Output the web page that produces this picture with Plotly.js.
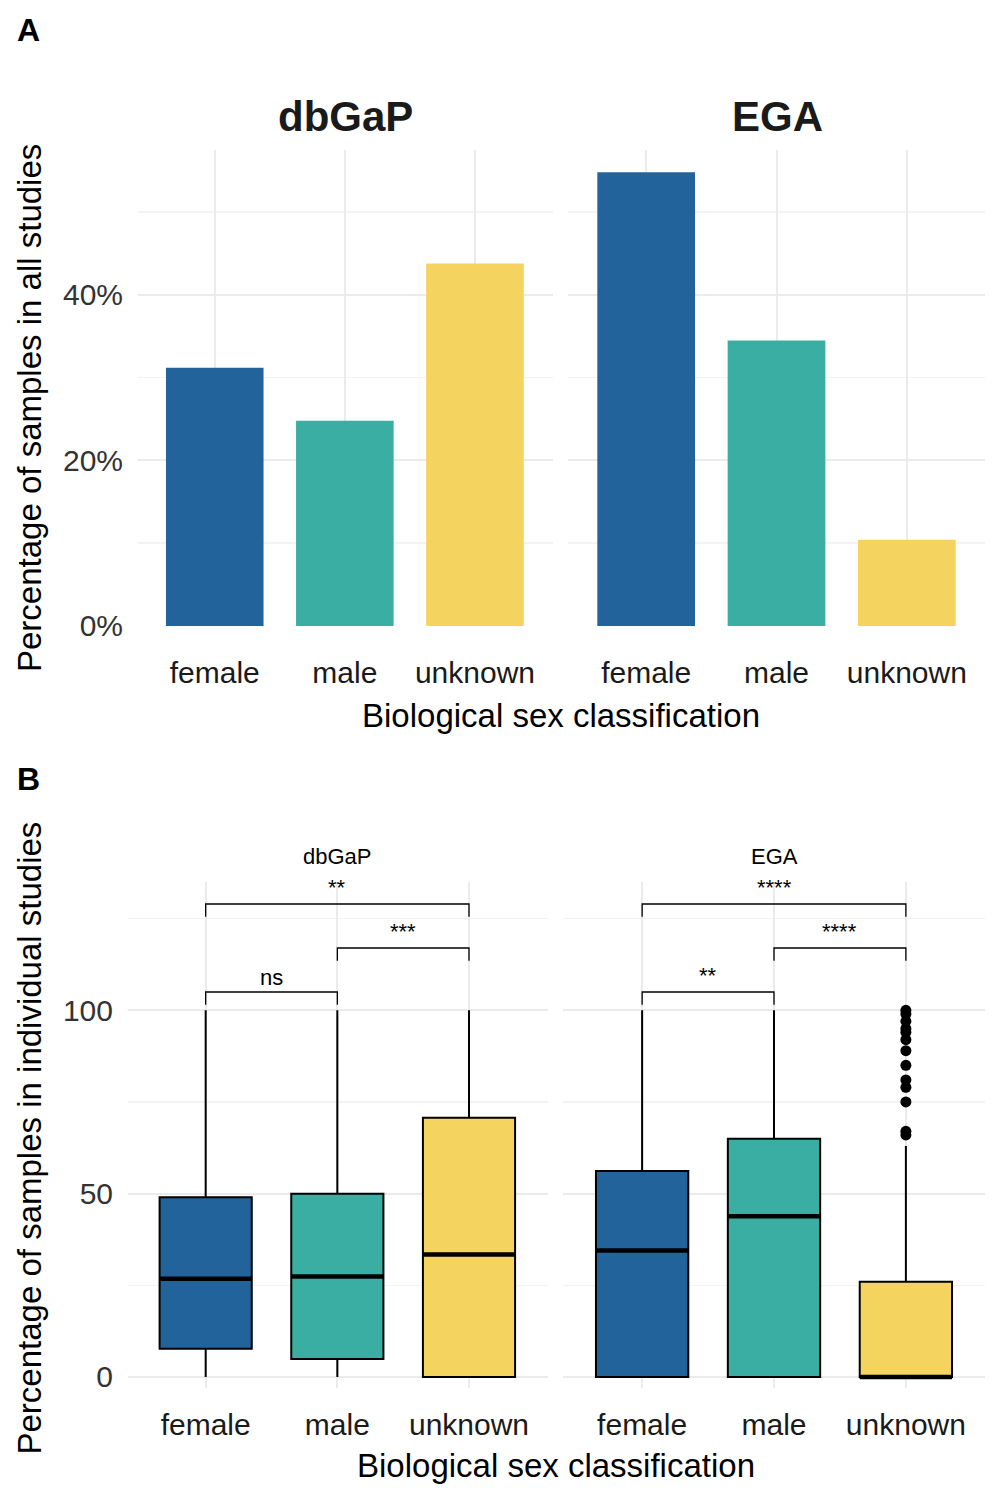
<!DOCTYPE html>
<html>
<head>
<script src="https://cdn.plot.ly/plotly-3.0.1.min.js"></script>
<style>body{margin:0}#chart{width:1000px;height:1500px}</style>
</head>
<body>
<div id="chart"></div>
<script>
// Panel A: percentage of samples in all studies
const categories = ['female', 'male', 'unknown'];
const sources = ['dbGaP', 'EGA'];
const colors = ['#22639b', '#3aaea3', '#f4d45e'];
const pctDbgap = [31.2, 24.8, 43.8];
const pctEga = [54.8, 34.5, 10.4];

// Panel B: per-study box statistics (min, q1, median, q3, max)
const boxDbgap = [
    [0, 7.7, 26.8, 49, 100],
    [0, 4.9, 27.4, 50, 100],
    [0, 0, 33.4, 70.7, 100]
];
const boxEga = [
    [0, 0, 34.5, 56.2, 100],
    [0, 0, 43.8, 65, 100],
    [0, 0, 0, 26, 63]
];
const egaUnknownOutliers = [66, 67, 75, 79, 81, 85, 89, 92, 94, 95, 97, 99, 100];

// significance comparisons: [from, to, bracket y, label]
const sigDbgap = [['female', 'male', 105, 'ns'], ['male', 'unknown', 117, '***'], ['female', 'unknown', 129, '**']];
const sigEga = [['female', 'male', 105, '**'], ['male', 'unknown', 117, '****'], ['female', 'unknown', 129, '****']];

const font = 'Liberation Sans, Arial, sans-serif';
const traces = [];
const shapes = [];
const annotations = [];

[pctDbgap, pctEga].forEach((vals, i) => {
    traces.push({
        type: 'bar', x: categories, y: vals, width: 0.75,
        marker: {color: colors},
        xaxis: i === 0 ? 'x' : 'x2', yaxis: 'y',
        showlegend: false, hoverinfo: 'skip'
    });
});

[boxDbgap, boxEga].forEach((stats, i) => {
    const xa = i === 0 ? 'x3' : 'x4';
    stats.forEach((s, j) => {
        traces.push({
            type: 'box', x: [categories[j]],
            lowerfence: [s[0]], q1: [s[1]], median: [s[2]], q3: [s[3]], upperfence: [s[4]],
            fillcolor: colors[j], line: {color: '#000', width: 2}, whiskerwidth: 0, width: 0.7,
            xaxis: xa, yaxis: 'y2', showlegend: false, hoverinfo: 'skip'
        });
        // thicker median bar, as in ggplot
        shapes.push({type: 'line', xref: xa, yref: 'y2', x0: j - 0.35, x1: j + 0.35,
            y0: s[2], y1: s[2], line: {color: '#000', width: 4.5}});
    });
});
traces.push({
    type: 'scatter', mode: 'markers',
    x: egaUnknownOutliers.map(() => 'unknown'), y: egaUnknownOutliers,
    marker: {color: '#000', size: 11}, xaxis: 'x4', yaxis: 'y2', showlegend: false, hoverinfo: 'skip'
});

[sigDbgap, sigEga].forEach((sig, i) => {
    const xr = i === 0 ? 'x3' : 'x4';
    sig.forEach(([a, b, y, lab]) => {
        const ia = categories.indexOf(a), ib = categories.indexOf(b);
        shapes.push({type: 'path', xref: xr, yref: 'y2',
            path: `M ${ia} ${y - 3.5} L ${ia} ${y} L ${ib} ${y} L ${ib} ${y - 3.5}`,
            line: {color: '#000', width: 1.3}});
        annotations.push({xref: xr, yref: 'y2', x: (ia + ib) / 2, y: y, text: lab,
            showarrow: false, yanchor: 'bottom', yshift: lab === 'ns' ? 0 : 2,
            font: {size: 22, color: '#000', family: font}});
    });
});

function label(text, x, y, size, extra) {
    return Object.assign({text: text, x: x, y: y, xref: 'paper', yref: 'paper', showarrow: false,
        xanchor: 'center', yanchor: 'middle', font: {size: size, color: '#000', family: font}}, extra || {});
}

const xBase = {
    type: 'category', showgrid: true, gridcolor: '#ebebeb', gridwidth: 2,
    zeroline: false, ticks: '', showline: false,
    tickfont: {size: 30, color: '#1a1a1a', family: font}, anchor: 'free'
};
const yBase = {
    gridcolor: '#ebebeb', gridwidth: 2, zeroline: false, ticklabelstandoff: 14,
    tickfont: {size: 30, color: '#333', family: font}
};
const layout = {
    width: 1000, height: 1500,
    margin: {l: 0, r: 0, t: 0, b: 0},
    paper_bgcolor: '#fff', plot_bgcolor: 'rgba(0,0,0,0)',
    font: {family: font, color: '#1a1a1a'},
    xaxis: Object.assign({}, xBase, {domain: [0.138, 0.553], range: [-0.59, 2.6], position: 0.5827, ticklabelstandoff: 26}),
    xaxis2: Object.assign({}, xBase, {domain: [0.568, 0.985], range: [-0.6, 2.6], position: 0.5827, ticklabelstandoff: 26}),
    xaxis3: Object.assign({}, xBase, {domain: [0.128, 0.548], range: [-0.59, 2.6], position: 0.0747, ticklabelstandoff: 16}),
    xaxis4: Object.assign({}, xBase, {domain: [0.563, 0.985], range: [-0.6, 2.6], position: 0.0747, ticklabelstandoff: 16}),
    yaxis: Object.assign({}, yBase, {
        domain: [0.5827, 0.9], range: [0, 57.5], anchor: 'x',
        tickvals: [0, 20, 40], ticktext: ['0%', '20%', '40%'],
        minor: {tickvals: [10, 30, 50], showgrid: true, gridcolor: '#f3f3f3', gridwidth: 1.5}
    }),
    yaxis2: Object.assign({}, yBase, {
        domain: [0.0747, 0.412], range: [-3, 135], anchor: 'x3',
        tickvals: [0, 50, 100],
        minor: {tickvals: [25, 75, 125], showgrid: true, gridcolor: '#f3f3f3', gridwidth: 1.5}
    }),
    shapes: shapes,
    annotations: annotations.concat([
        label('<b>A</b>', 0.028, 0.98, 32),
        label('<b>B</b>', 0.028, 0.481, 32),
        label('<b>dbGaP</b>', 0.345, 0.922, 42, {font: {size: 42, color: '#1a1a1a', family: font}}),
        label('<b>EGA</b>', 0.777, 0.922, 42, {font: {size: 42, color: '#1a1a1a', family: font}}),
        label('dbGaP', 0.337, 0.4287, 22),
        label('EGA', 0.774, 0.4287, 22),
        label('Biological sex classification', 0.561, 0.523, 33),
        label('Biological sex classification', 0.556, 0.0233, 33),
        label('Percentage of samples in all studies', 0.029, 0.728, 33, {textangle: -90}),
        label('Percentage of samples in individual studies', 0.029, 0.241, 33, {textangle: -90})
    ])
};

Plotly.newPlot('chart', traces, layout, {displayModeBar: false, staticPlot: true});
</script>
</body>
</html>
